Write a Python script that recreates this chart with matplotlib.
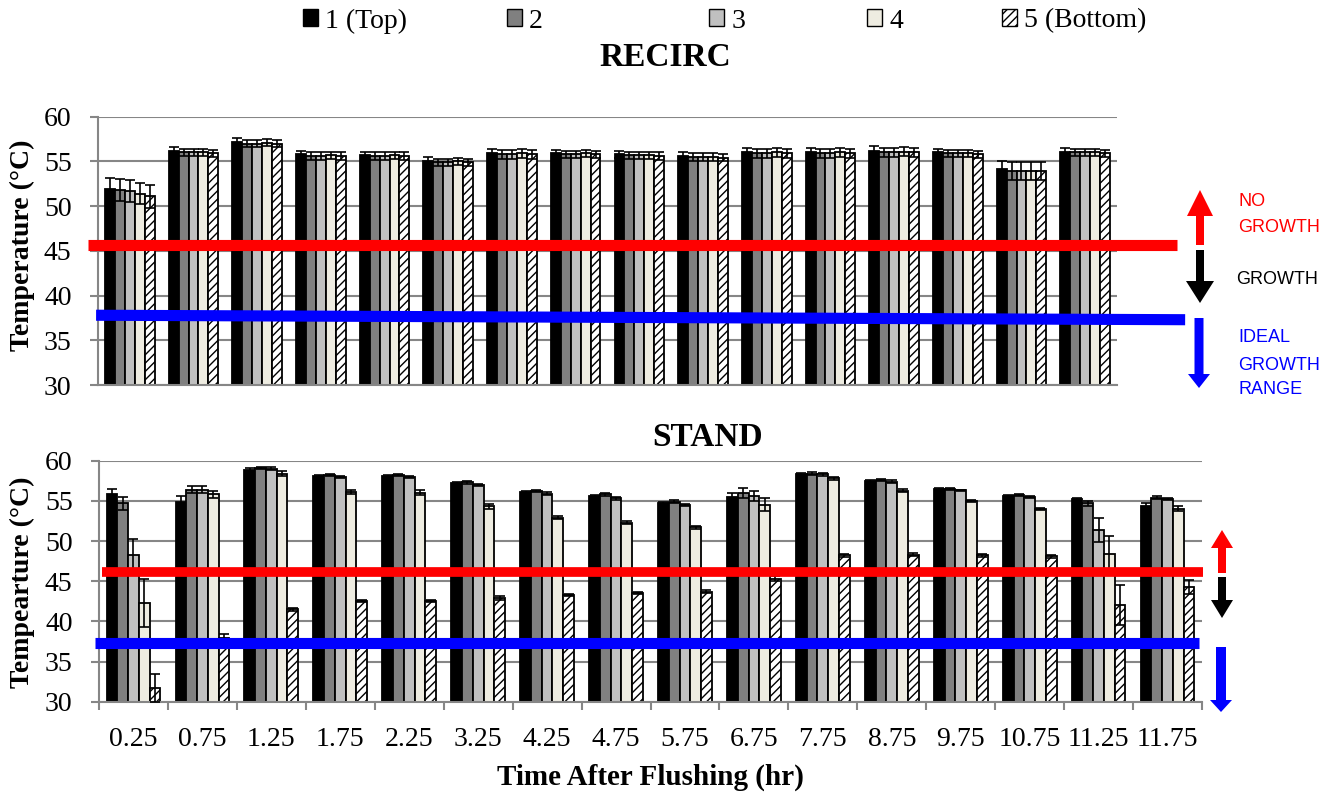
import matplotlib
matplotlib.use("Agg")
import matplotlib.pyplot as plt
import numpy as np
from matplotlib.patches import Patch, FancyArrow
from matplotlib.transforms import Affine2D

plt.rcParams['font.family'] = ['Liberation Serif', 'DejaVu Serif']
plt.rcParams['hatch.linewidth'] = 1.0

# ---- data ----
times = ['0.25', '0.75', '1.25', '1.75', '2.25', '3.25', '4.25', '4.75',
         '5.75', '6.75', '7.75', '8.75', '9.75', '10.75', '11.25', '11.75']
layers = ['1 (Top)', '2', '3', '4', '5 (Bottom)']

recirc_mean = [
    [51.9, 56.2, 57.2, 55.8, 55.7, 55.1, 55.9, 55.9, 55.8, 55.6, 56.0, 56.0, 56.2, 56.0, 54.1, 56.1],
    [51.8, 56.0, 57.0, 55.6, 55.6, 54.9, 55.8, 55.8, 55.7, 55.5, 55.9, 55.9, 56.0, 55.9, 53.9, 56.0],
    [51.7, 56.0, 57.0, 55.6, 55.6, 54.9, 55.8, 55.8, 55.7, 55.5, 55.9, 55.9, 56.0, 55.9, 53.9, 56.0],
    [51.4, 56.0, 57.1, 55.7, 55.7, 55.0, 55.9, 55.9, 55.7, 55.5, 56.0, 56.0, 56.1, 55.9, 53.9, 56.0],
    [51.1, 55.9, 57.0, 55.6, 55.6, 54.9, 55.8, 55.8, 55.6, 55.4, 55.9, 55.9, 56.0, 55.8, 53.9, 55.9],
]
recirc_err = [
    [1.2, 0.4, 0.4, 0.4, 0.4, 0.4, 0.5, 0.4, 0.4, 0.4, 0.5, 0.5, 0.5, 0.4, 1.0, 0.4],
    [1.2, 0.4, 0.4, 0.4, 0.4, 0.4, 0.5, 0.4, 0.4, 0.4, 0.5, 0.5, 0.5, 0.4, 1.0, 0.4],
    [1.2, 0.4, 0.4, 0.4, 0.4, 0.4, 0.5, 0.4, 0.4, 0.4, 0.5, 0.5, 0.5, 0.4, 1.0, 0.4],
    [1.2, 0.4, 0.4, 0.4, 0.4, 0.4, 0.5, 0.4, 0.4, 0.4, 0.5, 0.5, 0.5, 0.4, 1.0, 0.4],
    [1.3, 0.4, 0.4, 0.4, 0.4, 0.4, 0.5, 0.4, 0.4, 0.4, 0.5, 0.5, 0.5, 0.4, 1.0, 0.4],
]

stand_mean = [
    [55.8, 54.9, 58.9, 58.1, 58.1, 57.2, 56.1, 55.6, 54.75, 55.5, 58.3, 57.5, 56.5, 55.6, 55.2, 54.4],
    [54.7, 56.4, 59.1, 58.2, 58.2, 57.3, 56.2, 55.8, 54.9, 56.0, 58.4, 57.6, 56.5, 55.7, 54.7, 55.4],
    [48.2, 56.4, 59.0, 58.0, 58.0, 57.0, 55.9, 55.3, 54.5, 55.6, 58.3, 57.4, 56.3, 55.5, 51.4, 55.2],
    [42.3, 55.8, 58.4, 56.1, 56.0, 54.3, 52.9, 52.3, 51.7, 54.5, 57.8, 56.25, 55.0, 54.0, 48.4, 54.0],
    [31.7, 37.9, 41.5, 42.5, 42.5, 42.9, 43.3, 43.5, 43.7, 45.3, 48.2, 48.3, 48.2, 48.1, 42.0, 44.3],
]
stand_err = [
    [0.7, 0.7, 0.2, 0.15, 0.15, 0.2, 0.15, 0.15, 0.15, 0.5, 0.15, 0.15, 0.1, 0.1, 0.15, 0.3],
    [0.8, 0.4, 0.15, 0.15, 0.15, 0.15, 0.15, 0.15, 0.15, 0.6, 0.15, 0.15, 0.1, 0.1, 0.3, 0.15],
    [2.0, 0.4, 0.2, 0.15, 0.15, 0.15, 0.15, 0.15, 0.15, 0.6, 0.15, 0.15, 0.1, 0.1, 1.5, 0.15],
    [3.0, 0.4, 0.3, 0.3, 0.3, 0.3, 0.2, 0.2, 0.2, 0.8, 0.2, 0.2, 0.15, 0.15, 2.2, 0.3],
    [1.7, 0.5, 0.2, 0.15, 0.15, 0.2, 0.15, 0.15, 0.15, 0.3, 0.15, 0.15, 0.15, 0.15, 2.5, 0.9],
]

# growth thresholds drawn as thick bands (start, end values)
recirc_red = (45.7, 45.7)
recirc_blue = (37.8, 37.3)
stand_red = (46.1, 46.1)
stand_blue = (37.3, 37.3)

colors = ['#000000', '#808080', '#c0c0c0', '#eeece1', '#ffffff']
hatches = [None, None, None, None, '////']
GRID = '#868686'

W, H = 1339, 796
fig = plt.figure(figsize=(W / 100, H / 100), dpi=100)
pix = Affine2D().scale(1 / W, 1 / H) + fig.transFigure


def px_box(x0, y_top, x1, y_bot):
    return [x0 / W, 1 - y_bot / H, (x1 - x0) / W, (y_bot - y_top) / H]


def draw_panel(ax, means, errs, bar_w):
    x = np.arange(len(times))
    for k in range(len(layers)):
        off = (k - 2) * bar_w
        ax.bar(x + off, means[k], width=bar_w, color=colors[k], edgecolor='black',
               linewidth=1.3, hatch=hatches[k], zorder=2)
        ax.errorbar(x + off, means[k], yerr=errs[k], fmt='none', ecolor='black',
                    elinewidth=1.2, capsize=3.5, capthick=1.2, zorder=3)
    ax.set_xlim(-0.5, len(times) - 0.5)
    ax.set_ylim(30, 60)
    ax.set_yticks(range(30, 61, 5))
    ax.yaxis.grid(True, color=GRID, lw=1.5)
    ax.set_axisbelow(True)
    for s in ['top', 'right']:
        ax.spines[s].set_visible(False)
    for s in ['left', 'bottom']:
        ax.spines[s].set_color(GRID)
        ax.spines[s].set_linewidth(1.5)
    ax.tick_params(axis='y', length=6, width=1.5, color=GRID, labelsize=20, pad=13)


def band(ax, vals, x0, x1, color, lw):
    ax.plot([x0, x1], list(vals), color=color, lw=lw, solid_capstyle='butt',
            clip_on=False, zorder=5)


def arrow(x, y_from, y_to, color, w, hw, hl):
    a = FancyArrow(x, H - y_from, 0, -(y_to - y_from), width=w, head_width=hw,
                   head_length=hl, length_includes_head=True, color=color,
                   lw=0, transform=pix)
    fig.add_artist(a)


# ---- top panel: RECIRC ----
ax1 = fig.add_axes(px_box(98, 116.7, 1117, 385))
draw_panel(ax1, recirc_mean, recirc_err, 0.156)
ax1.set_xticks([])
band(ax1, recirc_red, -0.66, 16.44, '#ff0000', 8)
band(ax1, recirc_blue, -0.53, 16.57, '#0000ff', 8)

# ---- bottom panel: STAND ----
ax2 = fig.add_axes(px_box(99, 460.7, 1202, 701.7))
draw_panel(ax2, stand_mean, stand_err, 0.156)
ax2.set_xticks(np.arange(len(times)))
ax2.set_xticklabels(times)
ax2.set_xticks(np.arange(len(times) + 1) - 0.5, minor=True)
ax2.tick_params(axis='x', which='major', length=0, labelsize=20, pad=18)
ax2.tick_params(axis='x', which='minor', length=6, width=1.5, color=GRID)
band(ax2, stand_red, -0.46, 15.51, '#ff0000', 7)
band(ax2, stand_blue, -0.56, 15.46, '#0000ff', 8)

# ---- titles and labels ----
fig.text(665 / W, 1 - 57 / H, 'RECIRC', ha='center', va='center', fontsize=24, fontweight='bold')
fig.text(708 / W, 1 - 437 / H, 'STAND', ha='center', va='center', fontsize=24, fontweight='bold')
fig.text(22 / W, 1 - 245 / H, 'Temperature (°C)', rotation=90, ha='center', va='center',
         fontsize=20, fontweight='bold')
fig.text(22 / W, 1 - 582 / H, 'Tempearture (°C)', rotation=90, ha='center', va='center',
         fontsize=20, fontweight='bold')
fig.text(650 / W, 1 - 777 / H, 'Time After Flushing (hr)', ha='center', va='center',
         fontsize=21, fontweight='bold')

# ---- legend (one entry per column position) ----
legend_x = [303, 507, 709, 867, 1002]
for k in range(len(layers)):
    h = Patch(facecolor=colors[k], edgecolor='black', hatch=hatches[k], lw=1)
    fig.legend(handles=[h], labels=[layers[k]], loc='center left',
               bbox_to_anchor=(legend_x[k] / W, 1 - 21 / H), frameon=False,
               fontsize=20, handlelength=0.55, handleheight=0.55, handletextpad=0.25,
               borderpad=0, borderaxespad=0)

# ---- growth arrows and notes ----
arrow(1200, 245, 190, '#ff0000', 8, 26, 26)
arrow(1200, 250, 303, 'black', 8, 28, 22)
arrow(1199, 318, 388, '#0000ff', 9, 22, 14)
arrow(1222, 573, 530, '#ff0000', 8, 22, 18)
arrow(1222, 577, 618, 'black', 8, 22, 18)
arrow(1221, 647, 712, '#0000ff', 10, 22, 12)

notes = [('NO', 1238, 201, '#ff0000'), ('GROWTH', 1238, 228, '#ff0000'),
         ('GROWTH', 1236, 280, 'black'),
         ('IDEAL', 1238, 338, '#0000ff'), ('GROWTH', 1238, 365, '#0000ff'),
         ('RANGE', 1238, 390, '#0000ff')]
for txt, x, y, c in notes:
    fig.text(x / W, 1 - y / H, txt, ha='left', va='center', color=c, fontsize=13,
             family=['Liberation Sans', 'DejaVu Sans'])

fig.savefig('out.png', dpi=100)
